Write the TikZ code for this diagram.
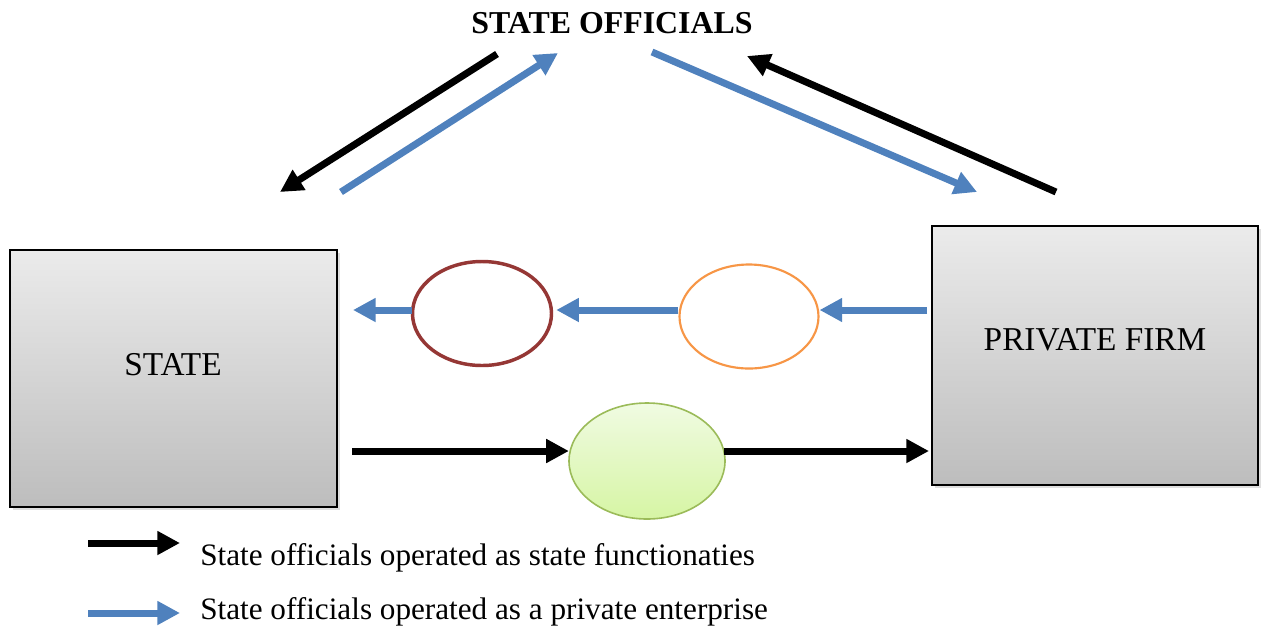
\documentclass[tikz,border=0pt]{standalone}
\usepackage{fontspec}
\setmainfont{Liberation Serif}
\usetikzlibrary{arrows.meta,shapes.geometric,shadows}
\definecolor{arrblue}{HTML}{4F81BD}
\definecolor{ellbrown}{HTML}{953735}
\definecolor{ellorange}{HTML}{F79646}
\definecolor{ellgreen}{HTML}{9BBB59}
\definecolor{boxtop}{HTML}{EBEBEB}
\definecolor{boxbot}{HTML}{BDBDBD}
\definecolor{greentop}{HTML}{F0FBE2}
\definecolor{greenbot}{HTML}{D6F5A4}
\tikzset{
  bigbox/.style={draw=black, line width=1.5pt, rectangle, inner sep=0pt,
    top color=boxtop, bottom color=boxbot,
    drop shadow={opacity=0.25, shadow xshift=2pt, shadow yshift=-2.5pt}},
  boxlabel/.style={anchor=base, inner sep=0pt, font=\fontsize{25}{29}\selectfont},
  oval/.style={ellipse, inner sep=0pt},
  blackarrow/.style={draw=black, line width=5.25pt, -{Triangle[length=17pt,width=17pt]}},
  bluearrow/.style={draw=arrblue, line width=5.25pt, -{Triangle[length=17pt,width=17pt]}},
  legendtext/.style={anchor=base west, inner sep=0pt, font=\fontsize{23.4}{27}\selectfont},
}
\begin{document}
\begin{tikzpicture}[x=0.75pt, y=-0.75pt]
\useasboundingbox[fill=white] (0,0) rectangle (1263,626);

% title
\node[font=\fontsize{23.9}{28}\selectfont\bfseries, anchor=base, inner sep=0pt] (off) at (612,33) {STATE OFFICIALS};

% boxes
\node[bigbox, minimum width=327*0.75pt, minimum height=257*0.75pt] (state) at (173.5,378.5) {};
\node[boxlabel] (statelbl) at (173,375) {STATE};
\node[bigbox, minimum width=326*0.75pt, minimum height=259*0.75pt] (firm) at (1095,355.5) {};
\node[boxlabel] (firmlbl) at (1095,350) {PRIVATE FIRM};

% ellipses
\node[oval, draw=ellbrown, line width=2.6pt, minimum width=139*0.75pt, minimum height=104*0.75pt] (brown) at (482,313.5) {};
\node[oval, draw=ellorange, line width=1.6pt, minimum width=139*0.75pt, minimum height=104*0.75pt] (orange) at (749,316.5) {};
\node[oval, draw=ellgreen, line width=1.2pt, top color=greentop, bottom color=greenbot,
  minimum width=156*0.75pt, minimum height=116*0.75pt] (green) at (647,461) {};

% coordinates for free ends
\coordinate (pfw) at (927,310);
\coordinate (stw) at (353,310);
\coordinate (stb) at (352,451);
\coordinate (pfb) at (929,451);
\coordinate (d1s) at (497,54);  \coordinate (d1e) at (280,192);
\coordinate (d2s) at (341,192); \coordinate (d2e) at (558,53);
\coordinate (d3s) at (652,52);  \coordinate (d3e) at (977,192);
\coordinate (d4s) at (1056,192);\coordinate (d4e) at (747,56);

% diagonal arrows
\draw[blackarrow] (d1s) -- (d1e);
\draw[bluearrow] (d2s) -- (d2e);
\draw[bluearrow] (d3s) -- (d3e);
\draw[blackarrow] (d4s) -- (d4e);

% middle row (blue)
\draw[bluearrow] (pfw) -- (orange.east |- pfw);
\draw[bluearrow] (orange.west |- pfw) -- ([xshift=2.25pt]brown.east |- pfw);
\draw[bluearrow] ([xshift=1pt]brown.west |- pfw) -- (stw);

% bottom row (black)
\draw[blackarrow] (stb) -- ([xshift=0.5pt]green.west |- stb);
\draw[blackarrow] ([xshift=-1pt]green.east |- stb) -- (pfb);

% legend
\coordinate (l1s) at (88,543); \coordinate (l1e) at (180,543);
\coordinate (l2s) at (88,613); \coordinate (l2e) at (180,613);
\draw[blackarrow] (l1s) -- (l1e);
\draw[bluearrow] (l2s) -- (l2e);
\node[legendtext] (t1) at (200,565) {State officials operated as state functionaties};
\node[legendtext] (t2) at (200,619) {State officials operated as a private enterprise};
\end{tikzpicture}
\end{document}
